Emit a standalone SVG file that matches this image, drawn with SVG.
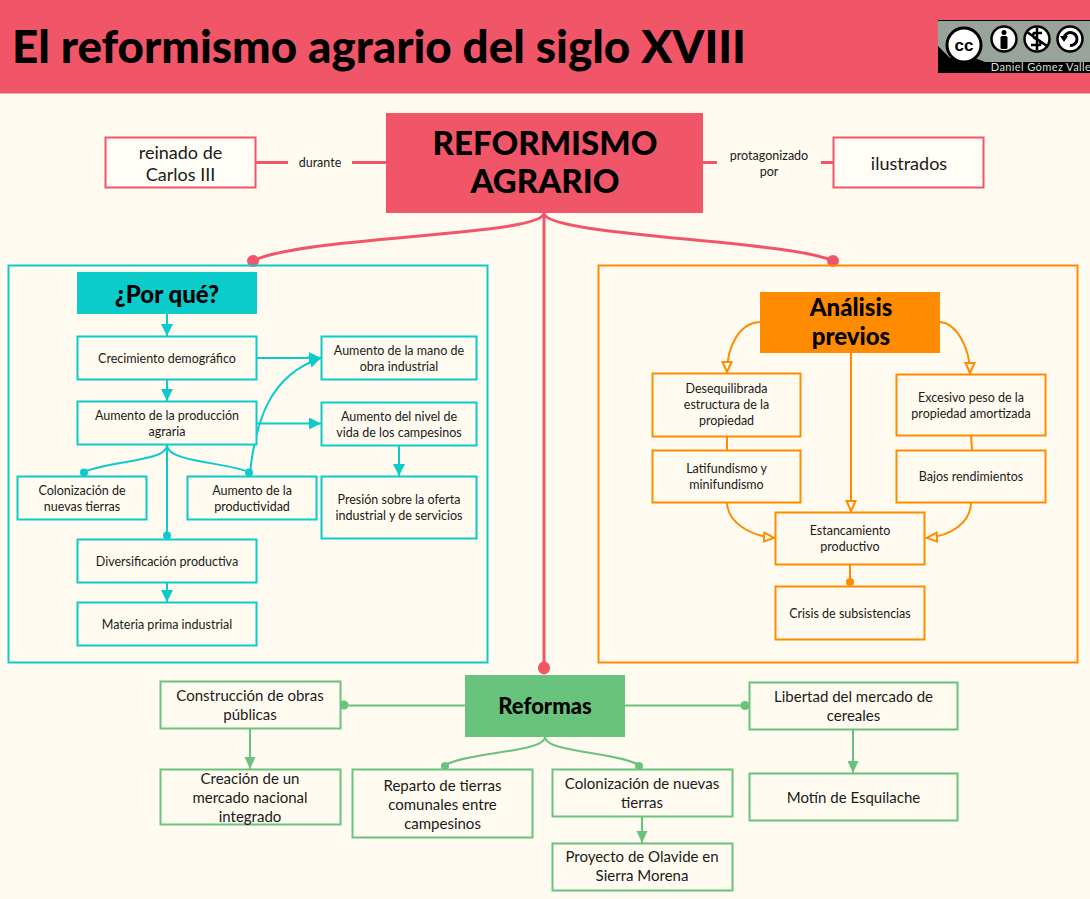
<svg xmlns="http://www.w3.org/2000/svg" width="1090" height="899" viewBox="0 0 1090 899">
<style>
text{font-family:"Lato","Noto Sans",sans-serif;fill:#1a1a1a;text-anchor:middle}
.h{font-family:"Lato",sans-serif;font-weight:900;fill:#000}
.s{font-size:12.5px}
.m{font-size:15px}
.l{font-size:18px}
.c{fill:#fffbf0;stroke:#0ccbcb;stroke-width:2}
.o{fill:#fffbf0;stroke:#ff8c00;stroke-width:2}
.g{fill:#fffbf0;stroke:#68c47c;stroke-width:2}
.r{fill:#fffdf5;stroke:#f05668;stroke-width:2}
.lc{fill:none;stroke:#0ccbcb;stroke-width:2}
.lo{fill:none;stroke:#ff8c00;stroke-width:2}
.lg{fill:none;stroke:#68c47c;stroke-width:2}
.lr{fill:none;stroke:#f05668;stroke-width:3}
</style>
<defs>
<marker id="ac" markerUnits="userSpaceOnUse" markerWidth="14" markerHeight="14" refX="12" refY="6" orient="auto"><path d="M0 0L12 6L0 12Z" fill="#0ccbcb"/></marker>
<marker id="ag" markerUnits="userSpaceOnUse" markerWidth="14" markerHeight="14" refX="12" refY="5.5" orient="auto"><path d="M0 0L12 5.5L0 11Z" fill="#68c47c"/></marker>
<marker id="ao" markerUnits="userSpaceOnUse" markerWidth="14" markerHeight="14" refX="12" refY="6" orient="auto"><path d="M1 1.5L11 6L1 10.500Z" fill="#fffbf0" stroke="#ff8c00" stroke-width="2"/></marker>
</defs>
<rect width="1090" height="899" fill="#fffbf0"/>
<g id="header">
<rect width="1090" height="93.500" fill="#f05668"/>
<text class="h" x="12" y="63" font-size="46" style="text-anchor:start" textLength="734" lengthAdjust="spacingAndGlyphs">El reformismo agrario del siglo XVIII</text>
</g>
<g id="license">
<rect x="938" y="20" width="152" height="53" fill="#000"/>
<path d="M938 21H1090V62H985L975 58H950L938 46Z" fill="#98a39a"/>
<circle cx="964" cy="45" r="17" fill="#fff" stroke="#000" stroke-width="3"/>
<text x="964" y="51" font-size="17" font-weight="700" style="font-family:'Liberation Sans',sans-serif;fill:#000">cc</text>
<circle cx="1004" cy="39" r="12.500" fill="#fff" stroke="#000" stroke-width="2.500"/>
<circle cx="1004" cy="32.500" r="2.500" fill="#000"/><rect x="1000.500" y="36" width="7" height="13" rx="1.500" fill="#000"/>
<circle cx="1037" cy="39" r="12.500" fill="#fff" stroke="#000" stroke-width="2.500"/>
<path d="M1027 32L1047 46M1042 33H1034Q1031 36 1036 39Q1042 41 1040 45H1031M1037 28V50" fill="none" stroke="#000" stroke-width="2.500"/>
<circle cx="1070" cy="39" r="12.500" fill="#fff" stroke="#000" stroke-width="2.500"/>
<path d="M1064 39A6.500 6.500 0 1 1 1070 45.500" fill="none" stroke="#000" stroke-width="3"/><path d="M1060 36H1068L1064 42Z" fill="#000"/>
<text x="1041" y="71" font-size="11" style="fill:#ddd;letter-spacing:.4px">Daniel Gómez Valle</text>
</g>
<g id="connectors">
<path class="lr" d="M256 162.500H288M352 162.500H386M703 162.500H717M821 162.500H833"/>
<path class="lr" d="M544 213V668M544 213C544 236 300 236 253 261M544 213C544 236 790 240 833 261"/>
<g fill="#f05668"><circle cx="253" cy="261" r="6"/><circle cx="833" cy="261" r="6"/><ellipse cx="544" cy="668" rx="6" ry="6.500"/></g>
<path class="lc" marker-end="url(#ac)" d="M167 314V336"/>
<path class="lc" marker-end="url(#ac)" d="M167 380V401"/>
<path class="lc" marker-end="url(#ac)" d="M257 358H321"/>
<path class="lc" marker-end="url(#ac)" d="M257 423.500H321"/>
<path class="lc" marker-end="url(#ac)" d="M399 445V476"/>
<path class="lc" marker-end="url(#ac)" d="M167 583V602"/>
<path class="lc" d="M167 445V536M167 445C167 462 110 460 84 472M167 445C167 462 225 462 249 472"/>
<path class="lc" marker-end="url(#ac)" d="M250 472C256 420 270 375 321 358"/>
<g fill="#0ccbcb"><circle cx="84" cy="472.500" r="4"/><circle cx="249" cy="472.500" r="4"/><circle cx="167" cy="535.500" r="4"/></g>
<path class="lo" marker-end="url(#ao)" d="M760 322C740 323 727 345 727 373"/>
<path class="lo" marker-end="url(#ao)" d="M940 322C955 323 970 345 970 374"/>
<path class="lo" marker-end="url(#ao)" d="M851 353V512"/>
<path class="lo" d="M727 437V450M971 436L972 450M850 564V582"/>
<path class="lo" marker-end="url(#ao)" d="M727 502C727 522 750 536 775 538"/>
<path class="lo" marker-end="url(#ao)" d="M971 502C971 522 952 536 926 538"/>
<circle cx="850" cy="582" r="4" fill="#ff8c00"/>
<path class="lg" d="M465 705.500H344M625 705.500H745M545 737C545 752 470 752 445 765M545 737C545 752 615 752 639 765"/>
<path class="lg" marker-end="url(#ag)" d="M250 729V769"/>
<path class="lg" marker-end="url(#ag)" d="M853 729V773"/>
<path class="lg" marker-end="url(#ag)" d="M642 817V843"/>
<g fill="#68c47c"><circle cx="344" cy="705" r="4.500"/><circle cx="745" cy="705.500" r="4.500"/><circle cx="445" cy="766" r="4"/><circle cx="639" cy="766" r="4"/></g>
</g>
<g id="n-durante"><text class="s" x="320" y="167">durante</text></g>
<g id="n-protagonizado"><text class="s" x="769" y="160">protagonizado</text><text class="s" x="769" y="176">por</text></g>
<g id="n-reformismo"><rect x="386" y="113" width="317" height="100" fill="#f05668"/><text class="h" x="545" y="155" font-size="33">REFORMISMO</text><text class="h" x="545" y="193" font-size="33">AGRARIO</text></g>
<g id="n-reinado"><rect class="r" x="105.500" y="137.500" width="150" height="50"/><text class="l" x="180.500" y="159">reinado de</text><text class="l" x="180.500" y="181">Carlos III</text></g>
<g id="n-ilustrados"><rect class="r" x="833.500" y="137.500" width="150" height="50"/><text class="l" x="909" y="170">ilustrados</text></g>
<g id="panel-porque"><rect x="8.500" y="265.500" width="479" height="397" fill="none" stroke="#0ccbcb" stroke-width="2"/></g>
<g id="n-porque"><rect x="77" y="272" width="180" height="42" fill="#0ccbcb"/><text class="h" x="167" y="303" font-size="24">¿Por qué?</text></g>
<g id="n-crecimiento"><rect class="c" x="77.500" y="336.500" width="179" height="43"/><text class="s" x="167" y="363">Crecimiento demográfico</text></g>
<g id="n-produccion"><rect class="c" x="77.500" y="401.500" width="179" height="43"/><text class="s" x="167" y="420">Aumento de la producción</text><text class="s" x="167" y="436">agraria</text></g>
<g id="n-colonizacion1"><rect class="c" x="17.500" y="476.500" width="129" height="43"/><text class="s" x="82" y="495">Colonización de</text><text class="s" x="82" y="511">nuevas tierras</text></g>
<g id="n-productividad"><rect class="c" x="187.500" y="476.500" width="129" height="43"/><text class="s" x="252" y="495">Aumento de la</text><text class="s" x="252" y="511">productividad</text></g>
<g id="n-diversificacion"><rect class="c" x="77.500" y="539.500" width="179" height="43"/><text class="s" x="167" y="566">Diversificación productiva</text></g>
<g id="n-materia"><rect class="c" x="77.500" y="602.500" width="179" height="43"/><text class="s" x="167" y="629">Materia prima industrial</text></g>
<g id="n-mano"><rect class="c" x="321.500" y="336.500" width="155" height="43"/><text class="s" x="399" y="355">Aumento de la mano de</text><text class="s" x="399" y="371">obra industrial</text></g>
<g id="n-nivel"><rect class="c" x="321.500" y="402.500" width="155" height="43"/><text class="s" x="399" y="421">Aumento del nivel de</text><text class="s" x="399" y="437">vida de los campesinos</text></g>
<g id="n-presion"><rect class="c" x="321.500" y="476.500" width="155" height="62"/><text class="s" x="399" y="504">Presión sobre la oferta</text><text class="s" x="399" y="520">industrial y de servicios</text></g>
<g id="panel-analisis"><rect x="598.500" y="265.500" width="479" height="397" fill="none" stroke="#ff8c00" stroke-width="2"/></g>
<g id="n-analisis"><rect x="760" y="292" width="180" height="61" fill="#ff8c00"/><text class="h" x="851" y="316" font-size="24">Análisis</text><text class="h" x="851" y="345" font-size="24">previos</text></g>
<g id="n-desequilibrada"><rect class="o" x="652.500" y="373.500" width="148" height="63"/><text class="s" x="726.500" y="393">Desequilibrada</text><text class="s" x="726.500" y="409">estructura de la</text><text class="s" x="726.500" y="425">propiedad</text></g>
<g id="n-latifundismo"><rect class="o" x="652.500" y="450.500" width="148" height="52"/><text class="s" x="726.500" y="473">Latifundismo y</text><text class="s" x="726.500" y="489">minifundismo</text></g>
<g id="n-excesivo"><rect class="o" x="896.500" y="374.500" width="149" height="61"/><text class="s" x="971" y="402">Excesivo peso de la</text><text class="s" x="971" y="418">propiedad amortizada</text></g>
<g id="n-bajos"><rect class="o" x="896.500" y="450.500" width="149" height="52"/><text class="s" x="971" y="481">Bajos rendimientos</text></g>
<g id="n-estancamiento"><rect class="o" x="775.500" y="512.500" width="149" height="52"/><text class="s" x="850" y="535">Estancamiento</text><text class="s" x="850" y="551">productivo</text></g>
<g id="n-crisis"><rect class="o" x="775.500" y="586.500" width="149" height="53"/><text class="s" x="850" y="618">Crisis de subsistencias</text></g>
<g id="n-reformas"><rect x="465" y="675" width="160" height="62" fill="#68c47c"/><text class="h" x="545" y="714" font-size="22">Reformas</text></g>
<g id="n-construccion"><rect class="g" x="160.500" y="681.500" width="180" height="47"/><text class="m" x="250" y="701">Construcción de obras</text><text class="m" x="250" y="720">públicas</text></g>
<g id="n-creacion"><rect class="g" x="160.500" y="769.500" width="180" height="55"/><text class="m" x="250" y="784">Creación de un</text><text class="m" x="250" y="803">mercado nacional</text><text class="m" x="250" y="822">integrado</text></g>
<g id="n-reparto"><rect class="g" x="352.500" y="769.500" width="180" height="68"/><text class="m" x="442.500" y="791">Reparto de tierras</text><text class="m" x="442.500" y="810">comunales entre</text><text class="m" x="442.500" y="829">campesinos</text></g>
<g id="n-colonizacion2"><rect class="g" x="552.500" y="769.500" width="180" height="47"/><text class="m" x="642" y="789">Colonización de nuevas</text><text class="m" x="642" y="808">tierras</text></g>
<g id="n-proyecto"><rect class="g" x="552.500" y="843.500" width="180" height="47"/><text class="m" x="642" y="862">Proyecto de Olavide en</text><text class="m" x="642" y="881">Sierra Morena</text></g>
<g id="n-libertad"><rect class="g" x="749.500" y="682.500" width="208" height="47"/><text class="m" x="853.500" y="702">Libertad del mercado de</text><text class="m" x="853.500" y="721">cereales</text></g>
<g id="n-motin"><rect class="g" x="749.500" y="773.500" width="208" height="47"/><text class="m" x="853.500" y="803">Motín de Esquilache</text></g>
</svg>
